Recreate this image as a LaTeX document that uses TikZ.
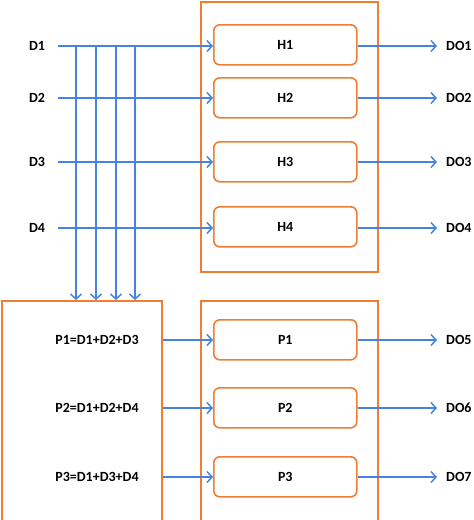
\documentclass[tikz,border=0pt]{standalone}
\usepackage{fontspec}
\setmainfont{Carlito}
\usetikzlibrary{arrows.meta}
\definecolor{lineblue}{RGB}{70,130,225}
\definecolor{boxorange}{RGB}{240,125,50}
\tikzset{
  lbl/.style={font=\fontsize{14}{16}\selectfont\bfseries,inner sep=2pt},
  outlbl/.style={lbl,anchor=west,inner xsep=9pt},
  frame/.style={draw=boxorange,line width=2pt,anchor=north west,inner sep=0pt},
  unit/.style={draw=boxorange,line width=1.6pt,rounded corners=6pt,minimum width=143pt,minimum height=40pt,
    font=\fontsize{14}{16}\selectfont\bfseries,anchor=north west},
  wire/.style={draw=lineblue,line width=1.5pt,-{Straight Barb[length=5pt,width=11pt,line width=1.5pt]}},
  plain/.style={draw=lineblue,line width=1.5pt}
}
\begin{document}
\begin{tikzpicture}[x=1pt,y=-1pt]
\useasboundingbox (0,0) rectangle (474,520);
% outer frames
\node[frame,minimum width=177pt,minimum height=270pt] (hbox) at (200,1) {};
\node[frame,minimum width=177pt,minimum height=220pt] (pbox) at (200,300) {};
\node[frame,minimum width=160pt,minimum height=220pt] (sumbox) at (1,300) {};
% H units
\node[unit] (h1) at (213,24) {H1};
\node[unit] (h2) at (213,77) {H2};
\node[unit] (h3) at (213,141) {H3};
\node[unit] (h4) at (213,206) {H4};
% P units
\node[unit] (p1) at (213,319) {P1};
\node[unit] (p2) at (213,387) {P2};
\node[unit] (p3) at (213,456) {P3};
% inputs
\node[lbl] (d1) at (37,46) {D1};
\node[lbl] (d2) at (37,98) {D2};
\node[lbl] (d3) at (37,162) {D3};
\node[lbl] (d4) at (37,228) {D4};
\foreach \i in {1,...,4}
  \draw[wire] ([xshift=11pt]d\i.east) -- (d\i -| h\i.west);
% taps down to the sum block
\foreach \x [count=\i] in {76,96,116,135}{
  \coordinate (t\i) at (\x,46);
  \draw[wire] (t\i) -- (t\i |- sumbox.north);
}
% sums
\node[lbl] (s1) at (97,340) {P1=D1+D2+D3};
\node[lbl] (s2) at (97,408) {P2=D1+D2+D4};
\node[lbl] (s3) at (97,477) {P3=D1+D3+D4};
\foreach \i in {1,2,3}
  \draw[wire] (s\i -| sumbox.east) -- (s\i -| p\i.west);
% outputs
\foreach \i in {1,...,4}{
  \node[outlbl] (do\i) at (437,0 |- d\i) {DO\i};
  \draw[wire] (d\i -| h\i.east) -- (do\i.west);
}
\foreach \i [evaluate=\i as \j using int(\i+4)] in {1,2,3}{
  \node[outlbl] (do\j) at (437,0 |- s\i) {DO\j};
  \draw[wire] (s\i -| p\i.east) -- (do\j.west);
}
\end{tikzpicture}
\end{document}
